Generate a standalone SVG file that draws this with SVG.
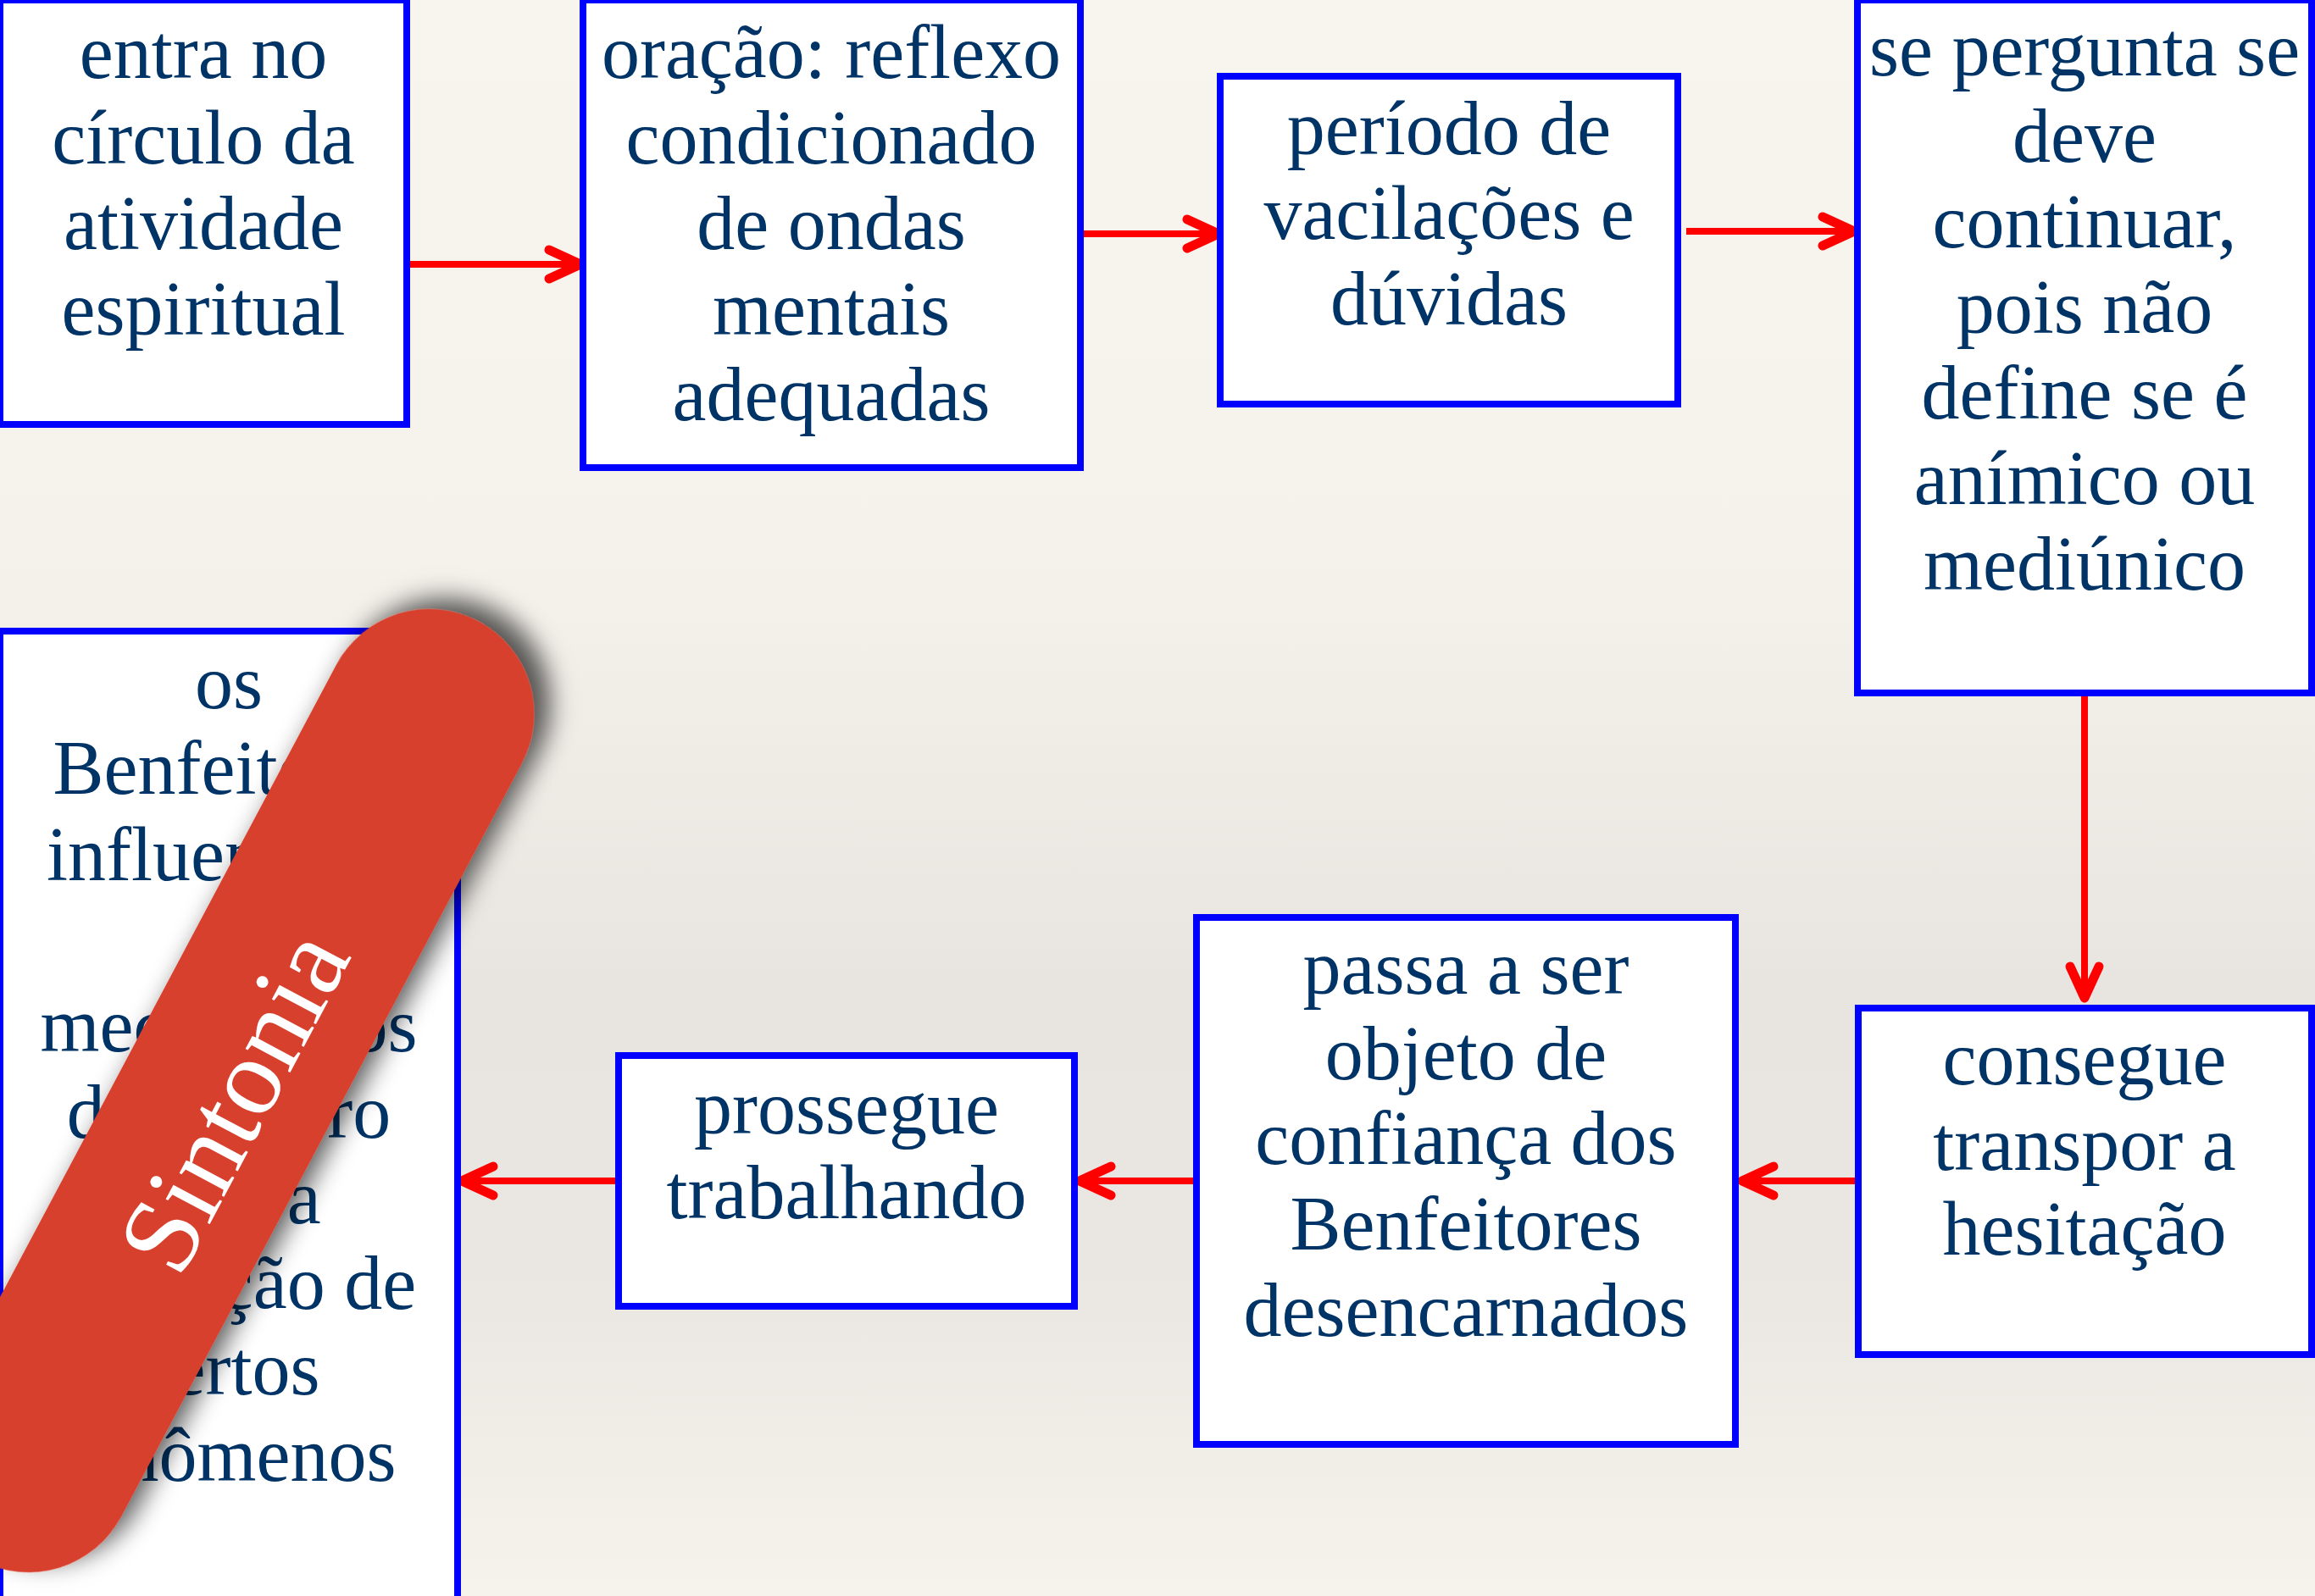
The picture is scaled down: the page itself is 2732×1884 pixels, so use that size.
<svg xmlns="http://www.w3.org/2000/svg" width="2732" height="1884" viewBox="0 0 2732 1884">
<defs>
<linearGradient id="bg" x1="0" y1="0" x2="0" y2="1">
<stop offset="0" stop-color="#f8f5ef"/>
<stop offset="0.35" stop-color="#f5f2ec"/>
<stop offset="0.62" stop-color="#e8e5e0"/>
<stop offset="0.8" stop-color="#eae7e2"/>
<stop offset="1" stop-color="#f6f3ed"/>
</linearGradient>
<marker id="arr" markerUnits="userSpaceOnUse" viewBox="-50 -25 60 50" markerWidth="60" markerHeight="50" refX="0" refY="0" orient="auto" overflow="visible">
<path d="M -37 -17 L 0 0 L -37 17" fill="none" stroke="#ff0000" stroke-width="11" stroke-linecap="round" stroke-linejoin="round"/>
</marker>
<filter id="shadow" x="-20%" y="-20%" width="140%" height="140%">
<feDropShadow dx="20" dy="11" stdDeviation="15" flood-color="#000" flood-opacity="0.65"/>
</filter>
</defs>
<style>
.box{fill:#ffffff;stroke:#0000ff;stroke-width:8}
.t{font-family:"Liberation Serif","Times New Roman",serif;font-size:90px;fill:#003366;text-anchor:middle}
.c{fill:none;stroke:#ff0000;stroke-width:8;marker-end:url(#arr)}
.band{fill:#d8402d}
.bt{font-family:"Liberation Serif","Times New Roman",serif;font-size:130px;fill:#ffffff;text-anchor:middle}
</style>
<rect x="0" y="0" width="2732" height="1884" fill="url(#bg)"/>

<g id="connectors">
<path class="c" d="M 483 312 L 685 312"/>
<path class="c" d="M 1279 276 L 1438 276"/>
<path class="c" d="M 1990 273 L 2188 273"/>
<path class="c" d="M 2460 822 L 2460 1178"/>
<path class="c" d="M 2189 1394 L 2056 1394"/>
<path class="c" d="M 1408 1394 L 1274 1394"/>
<path class="c" d="M 726 1394 L 545 1394"/>
</g>

<g id="n1">
<rect class="box" x="0" y="0" width="480" height="501"/>
<text class="t"><tspan x="240" y="92">entra no</tspan><tspan x="240" y="193">círculo da</tspan><tspan x="240" y="294">atividade</tspan><tspan x="240" y="395">espiritual</tspan></text>
</g>

<g id="n2">
<rect class="box" x="688" y="0" width="587" height="552"/>
<text class="t"><tspan x="981" y="92">oração: reflexo</tspan><tspan x="981" y="193">condicionado</tspan><tspan x="981" y="294">de ondas</tspan><tspan x="981" y="395">mentais</tspan><tspan x="981" y="496">adequadas</tspan></text>
</g>

<g id="n3">
<rect class="box" x="1440" y="90" width="540" height="387"/>
<text class="t"><tspan x="1710" y="182">período de</tspan><tspan x="1710" y="282">vacilações e</tspan><tspan x="1710" y="383">dúvidas</tspan></text>
</g>

<g id="n4">
<rect class="box" x="2192" y="0" width="536" height="818"/>
<text class="t"><tspan x="2460" y="89">se pergunta se</tspan><tspan x="2460" y="191">deve</tspan><tspan x="2460" y="292">continuar,</tspan><tspan x="2460" y="393">pois não</tspan><tspan x="2460" y="494">define se é</tspan><tspan x="2460" y="595">anímico ou</tspan><tspan x="2460" y="696">mediúnico</tspan></text>
</g>

<g id="n5">
<rect class="box" x="2193" y="1190" width="535" height="409"/>
<text class="t"><tspan x="2460" y="1280">consegue</tspan><tspan x="2460" y="1381">transpor a</tspan><tspan x="2460" y="1481">hesitação</tspan></text>
</g>

<g id="n6">
<rect class="box" x="1412" y="1083" width="636" height="622"/>
<text class="t"><tspan x="1730" y="1173">passa a ser</tspan><tspan x="1730" y="1274">objeto de</tspan><tspan x="1730" y="1374">confiança dos</tspan><tspan x="1730" y="1475">Benfeitores</tspan><tspan x="1730" y="1577">desencarnados</tspan></text>
</g>

<g id="n7">
<rect class="box" x="730" y="1246" width="538" height="296"/>
<text class="t"><tspan x="999" y="1338">prossegue</tspan><tspan x="999" y="1438">trabalhando</tspan></text>
</g>

<g id="n8">
<rect class="box" x="0" y="745" width="540" height="1160"/>
<text class="t"><tspan x="270" y="836">os</tspan><tspan x="270" y="937">Benfeitores</tspan><tspan x="270" y="1039">influenciam</tspan><tspan x="270" y="1140">os</tspan><tspan x="270" y="1241">mecanismos</tspan><tspan x="270" y="1343">do cérebro</tspan><tspan x="270" y="1444">para a</tspan><tspan x="270" y="1545">produção de</tspan><tspan x="270" y="1646">certos</tspan><tspan x="270" y="1748">fenômenos</tspan></text>
</g>

<g id="sintonia" transform="translate(270 1287.5) rotate(-62)">
<rect class="band" x="-627.5" y="-124" width="1255" height="248" rx="124" ry="124" filter="url(#shadow)"/>
<text class="bt" x="-8" y="54">Sintonia</text>
</g>
</svg>
